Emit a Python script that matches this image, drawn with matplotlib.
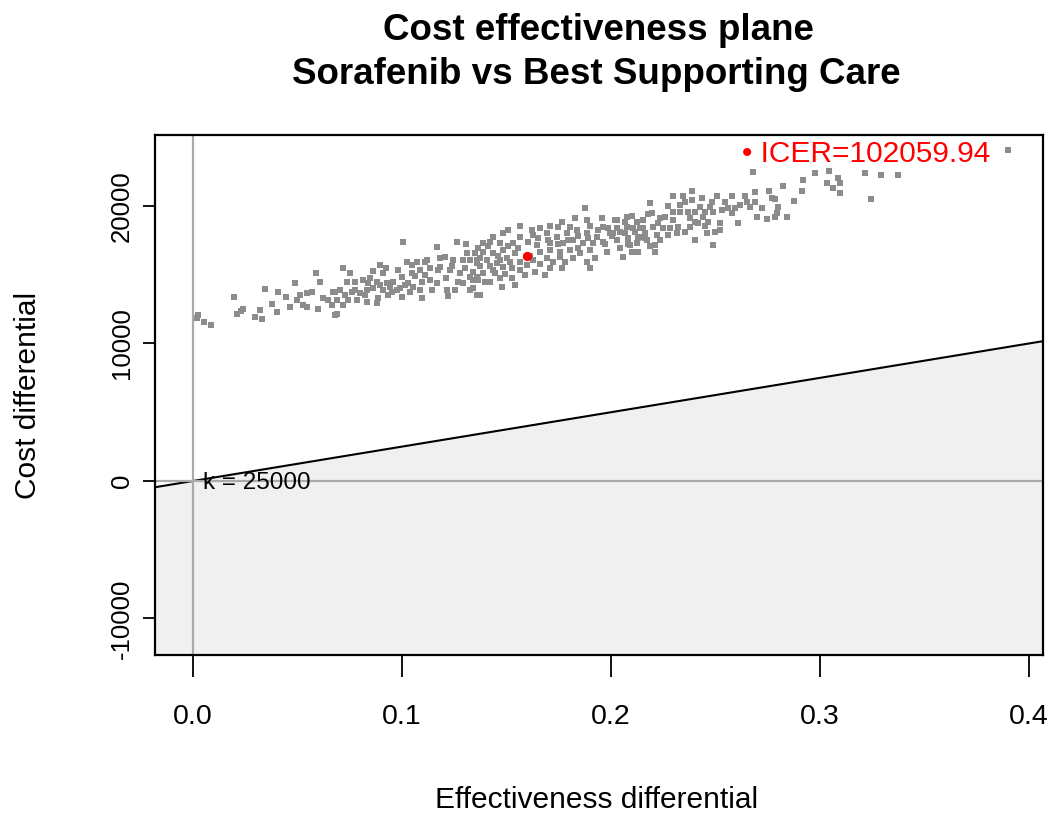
import numpy as np
import matplotlib
matplotlib.use("Agg")
import matplotlib.pyplot as plt

plt.rcParams['font.family'] = ['Liberation Sans', 'DejaVu Sans']

# simulated effectiveness / cost differentials (read off the plane)
eff = [
    .0025, .0018, .0053, .0085, .0198, .0209, .0228, .0241, .0297, .0321, .0329, .0344,
    .0377, .0400, .0408, .0445, .0464, .0488, .0496, .0512, .0528, .0544, .0568, .0544,
    .0587, .0608, .0600, .0623, .0647, .0664, .0679, .0688,
    .1006, .1262, .1166, .1310, .0719, .0751, .0895, .0863, .0911, .1022, .1070, .1118,
    .1206, .1245, .1293, .1357, .0735, .0775, .0815, .0839, .0879, .0927, .0958, .0999,
    .1046, .1086, .1134, .1182, .1230, .1278, .1325, .1365, .0671, .0703, .0727, .0759,
    .0799, .0831, .0863, .0911, .0943, .0975, .1014, .1054, .1094, .1134, .1166, .1214,
    .1254, .1293, .1341, .1357, .0688, .0719, .0783, .0831, .0879, .0934, .0999, .1038,
    .1086, .1094, .0679, .0887,
    .1876, .1884, .1956, .2027, .1748, .1963, .1509, .1621, .1804, .1437, .1485, .1565,
    .1628, .1692, .1740, .1788, .1836, .1884, .1932, .1995, .1389, .1421, .1469, .1533,
    .1644, .1708, .1772, .1820, .1867, .1915, .1963, .2027, .1349, .1389, .1437, .1485,
    .1541, .1660, .1708, .1756, .1804, .1852, .1900, .1979, .1357, .1405, .1453, .1501,
    .1565, .1628, .1692, .1756, .1820, .1884, .1900, .1341, .1389, .1437, .1485, .1525,
    .1597, .1708, .1764, .1341, .1397, .1469, .1525, .1477, .1373, .1357,
    .2681, .2386, .2298, .2346, .2354, .2506, .2578, .2689, .2689, .2545, .2649, .2187,
    .2426, .2474, .2561, .2617, .2665, .2195, .2298, .2330, .2402, .2442, .2489, .2578,
    .2697, .2075, .2258, .2019, .2123, .2155, .2226, .2298, .2378, .2418, .2466, .2522,
    .2609, .2027, .2075, .2107, .2155, .2202, .2250, .2322, .2378, .2522, .2498, .2011,
    .2067, .2115, .2163, .2219, .2274, .2314, .2458, .2027, .2083, .2131, .2171, .2402,
    .2091, .2123, .2211, .2489, .2099, .2131, .2211, .2059, .2139,
    .2976, .3043, .3215, .3290, .3375, .2920, .3032, .3088, .3096, .3064, .3096, .2821,
    .2757, .2912, .2769, .2785, .2877, .3244, .2721, .2801, .2793, .2745, .2844, .2785,
    .3901,
    # denser core of the cloud
    .1172, .1211, .1239, .1268, .1301, .1325, .1220, .1182, .1364, .1411, .1459, .1507,
    .1555, .1603, .1651, .1699, .1746, .1794, .1842, .1890, .1938, .1986, .1373, .1421,
    .1469, .1517, .1565, .1612, .1660, .1722, .1780, .1842, .1923, .1971, .2005, .1421,
    .1445, .1493, .1541, .1589, .1636, .1684, .1565, .1660, .1708, .1766, .1828, .1900,
    .1373, .1325, .1306,
    .2043, .2067, .2100, .2139, .2177, .2234, .2273, .2330, .2388, .2435, .2483, .2531,
    .2593, .2641, .2234, .2282, .2354, .2402, .2450, .2187, .2163, .2081, .2043, .2450,
    .2368,
    .0981, .1029, .1062, .1110, .1144, .0952, .0895, .0823, .0775, .0742, .0990, .0847,
    .0923, .1048, .1110,
]
cost = [
    12073, 11833, 11586, 11345, 13404, 12145, 12364, 12509, 11905, 12436, 11760, 13964,
    12873, 12313, 13767, 13404, 12676, 14378, 13164, 13527, 12800, 13651, 13767, 12676,
    15105, 14494, 12487, 13287, 13164, 12800, 13767, 12145,
    17360, 17360, 17040, 16604, 15469, 15149, 15709, 15295, 15105, 15949, 15949, 16073,
    16313, 16073, 16073, 16073, 14494, 14494, 14618, 14378, 14494, 14378, 14494, 14858,
    15105, 15345, 15469, 15585, 15345, 15105, 14858, 14618, 13767, 13891, 13527, 13767,
    13651, 13891, 14015, 13891, 14131, 13891, 14255, 14131, 14494, 14618, 14378, 13891,
    13891, 14378, 14015, 13527, 13164, 12800, 13164, 13040, 12924, 13527, 13404, 13767,
    13891, 13287, 12073, 13287,
    19833, 18982, 19105, 18982, 18495, 18495, 18255, 18255, 18495, 17767, 18015, 17767,
    17891, 18015, 17767, 18015, 18255, 18015, 17767, 18015, 17287, 17404, 17287, 17287,
    17164, 17287, 17287, 17527, 17287, 17287, 17404, 17527, 16560, 16676, 16560, 16800,
    16560, 16676, 16800, 16676, 16800, 16560, 16800, 16676, 15833, 16073, 15833, 16196,
    15949, 16073, 16196, 16313, 16196, 15949, 15469, 15222, 15105, 15345, 15585, 15469,
    15709, 15469, 15469, 14618, 14494, 14742, 14742, 14131, 13527, 14858,
    22495, 21091, 20727, 20727, 20313, 20727, 20727, 21040, 20313, 20313, 20313, 20196,
    19949, 19949, 19833, 20073, 19949, 19469, 19586, 19586, 19586, 19222, 19586, 19469,
    19222, 19222, 19222, 18982, 18858, 18982, 18742, 18982, 19105, 18742, 18858, 18742,
    18742, 18378, 18495, 18378, 18378, 18495, 18378, 18495, 18495, 18255, 18131, 18015,
    18015, 18131, 18015, 17891, 17891, 18015, 18015, 17527, 17651, 17651, 17527, 17527,
    17164, 17287, 17164, 17164, 16676, 16676, 16676, 16269, 17767,
    22422, 22567, 22422, 22255, 22255, 21891, 21695, 22015, 21651, 21287, 20924, 21476,
    21113, 21113, 20560, 20487, 20364, 20509, 19833, 19949, 19469, 19033, 19222, 19178,
    24073,
    15345, 14764, 15636, 14473, 15491, 13891, 13455, 16218, 16945, 17091, 16364, 17091,
    16945, 17382, 17673, 17527, 17236, 17527, 17818, 17673, 18255, 18400, 16218, 15636,
    16073, 15927, 15345, 16364, 15782, 15927, 15927, 16945, 16218, 17236, 17818, 14473,
    15127, 15055, 14255, 14982, 15200, 14982, 18545, 18400, 18545, 18836, 19127, 18545,
    15636, 16073, 17236,
    18109, 18836, 19273, 18400, 19418, 19127, 20000, 20073, 20436, 20582, 20291, 19709,
    19855, 20727, 17527, 18400, 18109, 18836, 18545, 17091, 17673, 17236, 16945, 19564,
    19564,
    15345, 14400, 14909, 14982, 13891, 13745, 14255, 13527, 13891, 13164, 14036, 14764,
    15491, 15709, 15927,
]

wtp = 25000
icer = 102059.94
mean_eff = 0.160
mean_cost = 16330

xlim = (-0.0182, 0.4067)
ylim = (-12655, 25164)

fig = plt.figure(figsize=(10.54, 8.21), dpi=100)
ax = fig.add_axes([0.147, 0.2022, 0.8425, 0.6334])

# acceptability region below the willingness-to-pay line
xs = np.array(xlim)
ax.fill_between(xs, wtp * xs, ylim[0] - 5000, color='#f0f0f0', lw=0, zorder=1)
ax.plot(xs, wtp * xs, color='black', lw=1.5, zorder=2)
ax.axhline(0, color='#aaaaaa', lw=1.6, zorder=2)
ax.axvline(0, color='#aaaaaa', lw=1.6, zorder=2)

ax.scatter(eff, cost, s=16, marker='s', color='#8c8c8c', lw=0, zorder=3)
ax.scatter([mean_eff], [mean_cost], s=45, color='red', lw=0, zorder=4)

ax.annotate("\u2022 ICER=%.2f" % icer, xy=(max(eff), max(cost)), xytext=(-13, -3),
            textcoords='offset points', ha='right', va='center',
            color='red', fontsize=21.5)
ax.text(0.005, -150, "k = %d" % wtp, ha='left', va='center', fontsize=17.5)

ax.set_xlim(xlim)
ax.set_ylim(ylim)
ax.set_xticks([0.0, 0.1, 0.2, 0.3, 0.4])
ax.set_xticklabels(["0.0", "0.1", "0.2", "0.3", "0.4"])
ax.set_yticks([-10000, 0, 10000, 20000])
ax.set_yticklabels(["-10000", "0", "10000", "20000"], rotation=90, va='center')
ax.tick_params(axis='x', length=16, width=1.3, pad=19, labelsize=20.5)
ax.tick_params(axis='y', length=9, width=1.3, pad=6, labelsize=18.5)
for sp in ax.spines.values():
    sp.set_linewidth(1.6)

fig.text(0.568, 1 - 30 / 821, "Cost effectiveness plane", ha='center', va='center',
         fontsize=26.5, fontweight='bold')
fig.text(0.566, 1 - 75 / 821, "Sorafenib vs Best Supporting Care", ha='center',
         va='center', fontsize=26.5, fontweight='bold')
fig.text(597 / 1054, 1 - 800 / 821, "Effectiveness differential", ha='center',
         va='center', fontsize=21.5)
fig.text(28 / 1054, 1 - 395 / 821, "Cost differential", ha='center', va='center',
         rotation=90, fontsize=21.5)

fig.savefig("out.png", dpi=100)
